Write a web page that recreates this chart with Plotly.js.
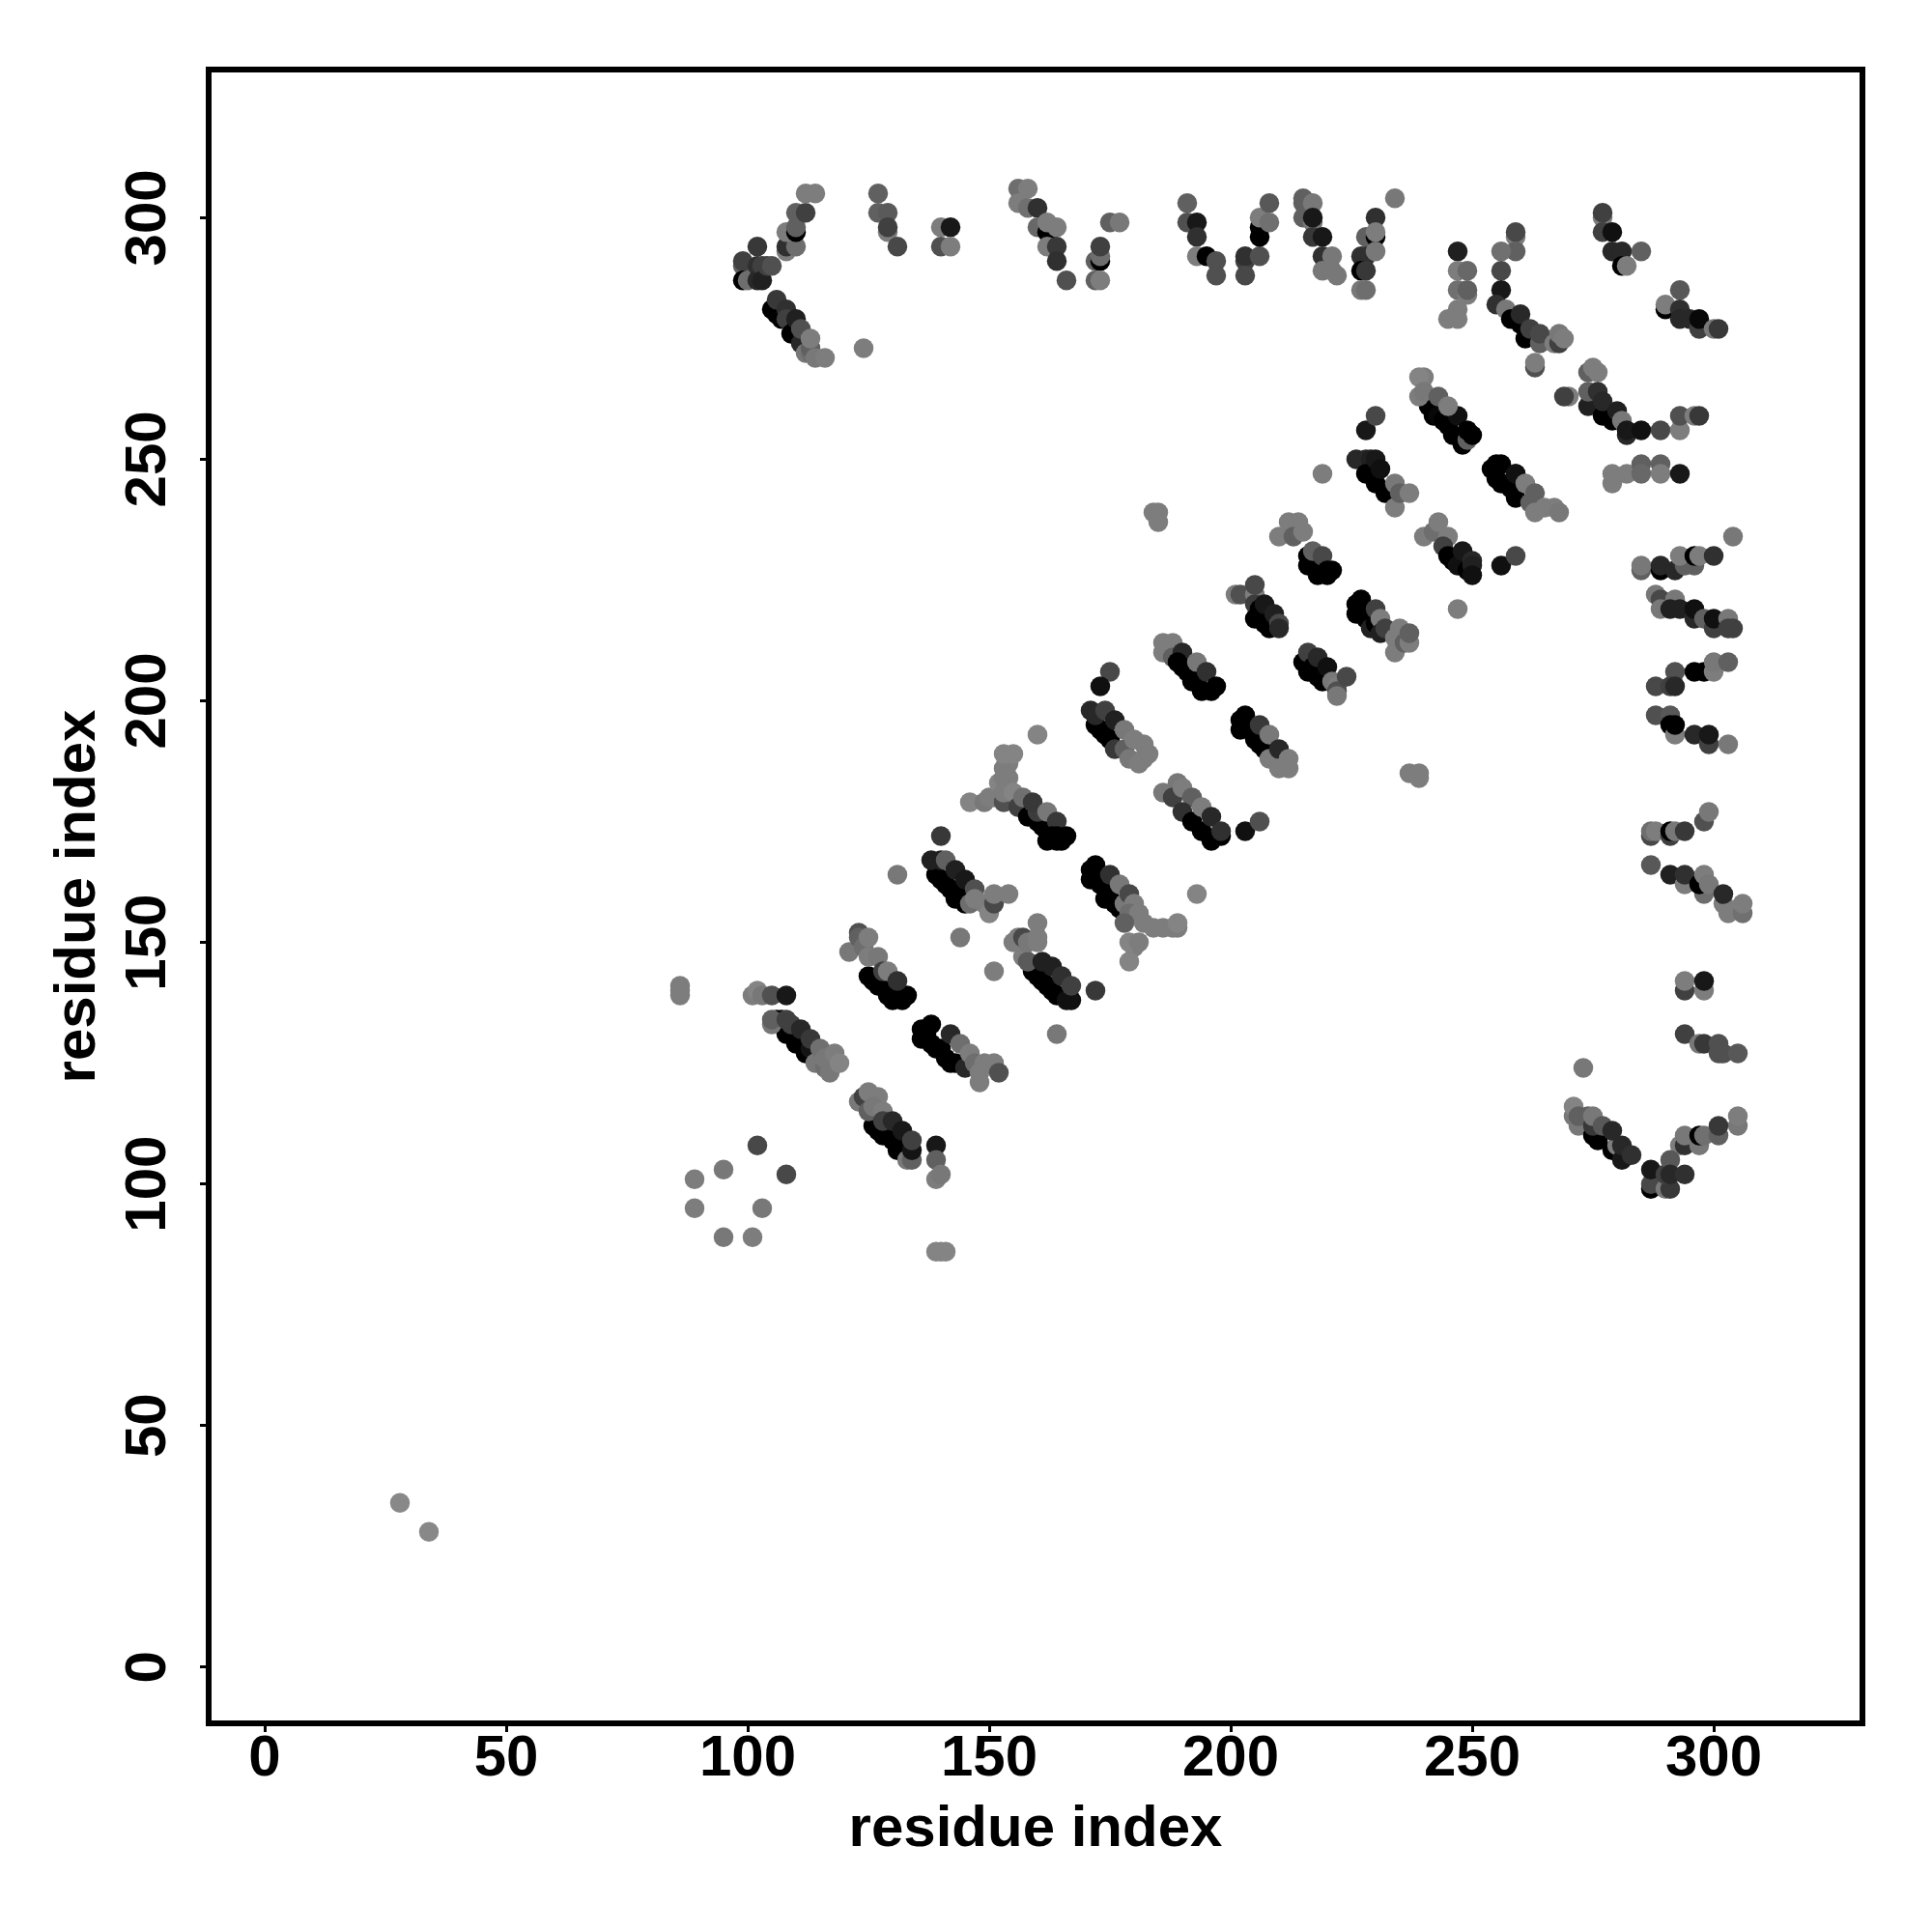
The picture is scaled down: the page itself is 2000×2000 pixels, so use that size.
<!DOCTYPE html>
<html><head><meta charset="utf-8">
<script src="https://cdn.plot.ly/plotly-3.0.1.min.js"></script>
<style>html,body{margin:0;padding:0;background:#fff}#c{width:2000px;height:2000px}</style>
</head><body><div id="c"></div>
<script>
var axisTitle = "residue index";
var tickValues = [0,50,100,150,200,250,300];
var tickLabels = ["0","50","100","150","200","250","300"];
// Contacts as [residue i, residue j, grey level], in drawing order.
var isolated = [[28,34,136],[34,28,136],[89,101,125],[89,95,125],[95,103,120],[95,89,120],[101,89,125],[103,95,120],[102,108,72],[108,102,72],[86,141,125],[86,139,125],[86,140,125]];
var row139 = [[101,139,125],[102,140,132],[103,139,120],[105,139,80],[108,139,24]];
var strip105 = [[106,134,0],[107,134,0],[108,131,0],[109,132,0],[110,129,0],[111,130,0],[112,127,0],[113,128,20],[105,133,120],[105,134,96],[108,134,64],[109,133,64],[111,132,40],[113,130,56],[114,125,120],[115,128,112],[116,124,110],[116,126,120],[117,123,120],[118,127,125],[119,125,132]];
var strip123 = [[126,112,0],[127,111,0],[128,110,0],[129,110,0],[130,109,0],[131,107,0],[132,107,0],[133,106,0],[133,105,120],[134,105,96],[123,117,120],[124,118,64],[125,119,125],[127,118,125],[125,115,96],[126,116,120],[128,115,125],[128,113,64],[130,113,40],[132,111,24],[134,107,20],[134,109,64]];
var tail139 = [[139,108,24],[139,105,96],[139,101,125],[140,102,120],[139,86,132],[140,86,132],[141,86,132]];
var strip136 = [[136,132,0],[136,130,0],[137,131,0],[138,133,0],[138,129,0],[139,128,0],[140,128,0],[141,126,0],[142,125,0],[143,125,0],[145,124,40],[142,131,40],[144,129,110],[146,127,125],[147,125,110],[148,123,125],[148,121,125],[149,125,125],[151,125,125],[152,123,80]];
var strip121 = [[125,143,0],[126,142,0],[127,141,0],[128,141,0],[129,139,0],[130,138,0],[131,139,0],[132,138,0],[133,139,0],[121,148,120],[123,152,80],[123,151,96],[124,149,110],[125,151,125],[125,147,125],[127,147,120],[128,144,64],[129,144,125],[131,142,48]];
var strip138 = [[139,164,0],[140,163,0],[141,162,0],[142,161,0],[143,159,0],[144,160,0],[145,158,0],[146,158,110],[138,167,32],[140,167,32],[141,167,96],[143,165,32],[145,163,24],[147,161,80],[147,159,125],[149,158,125],[150,156,132],[151,158,72],[151,160,125],[154,160,125],[140,172,56],[131,164,120]];
var strip156 = [[159,144,0],[160,143,0],[161,142,0],[162,141,0],[163,140,0],[164,139,0],[166,138,16],[167,138,16],[157,147,125],[158,146,90],[161,146,32],[163,145,32],[165,143,48],[167,141,64],[172,140,56],[164,131,120],[155,150,125],[156,151,125],[157,151,72],[158,150,120],[160,150,125],[160,151,125],[160,154,125],[144,151,120],[151,144,125]];
var strip146 = [[146,179,132],[149,179,120],[150,180,125],[151,180,125],[152,183,132],[153,186,125],[153,184,125],[154,184,125],[154,187,125],[153,189,132],[155,189,132],[153,179,80],[153,181,125],[155,181,132],[156,178,64],[157,180,112],[158,176,0],[160,175,0],[161,174,0],[162,173,0],[160,177,60],[159,179,56],[162,177,120],[164,175,56],[163,172,0],[162,171,0],[164,171,0],[164,172,0],[165,171,0],[166,172,0]];
var strip171 = [[171,165,0],[171,163,0],[172,166,0],[172,164,0],[173,162,0],[174,159,0],[175,161,0],[176,158,0],[175,164,48],[177,162,120],[177,157,0],[178,158,120],[179,160,72],[180,158,125],[179,156,110],[181,156,125],[178,154,96],[182,154,125],[184,153,125],[186,153,125],[188,153,125],[189,153,125],[189,154,132],[180,149,125],[179,150,132],[181,150,125],[179,146,132],[193,160,132]];
var strip172 = [[172,195,0],[173,194,0],[174,193,0],[175,192,0],[171,198,40],[172,197,40],[174,198,64],[176,196,32],[176,190,56],[178,194,120],[178,190,96],[180,192,125],[179,188,120],[181,187,125],[182,188,125],[182,191,125],[183,189,125],[175,206,72],[173,203,16],[160,193,132]];
var strip186 = [[189,183,120],[186,181,120],[188,180,64],[190,182,125],[192,180,96],[190,177,48],[192,175,0],[194,173,0],[196,171,0],[194,178,125],[196,176,40],[198,172,0],[198,173,48],[203,173,16],[206,175,80]];
var strip202 = [[202,196,0],[202,194,0],[203,197,0],[203,195,0],[205,192,0],[206,191,0],[207,190,0],[206,195,56],[208,193,120],[208,188,125],[210,190,40],[210,186,125],[212,188,125],[212,186,125]];
var strip186b = [[186,212,125],[188,212,125],[186,210,125],[188,209,96],[190,210,40],[189,208,0],[190,207,0],[191,206,0],[192,204,0],[193,208,120],[193,204,0],[195,206,48],[194,202,0],[196,202,0],[197,203,0]];
var strip215 = [[215,208,0],[216,210,64],[216,206,0],[217,207,0],[218,205,0],[218,209,40],[219,204,0],[220,207,16],[221,204,120],[222,203,125],[222,202,80],[222,201,120],[224,205,72]];
var strip201 = [[201,222,125],[202,222,80],[205,222,125],[205,224,72],[205,220,60],[205,217,0],[206,219,0],[207,216,0],[208,215,0],[207,220,24],[209,218,32],[210,216,72],[210,215,40]];
var outlierA = [[184,239,125],[185,239,125],[185,237,125],[237,185,125],[239,185,125],[239,184,125]];
var strip212 = [[210,234,125],[212,237,125],[214,237,125],[213,234,96],[215,235,125],[216,230,0],[216,228,0],[217,229,0],[217,231,96],[218,227,0],[219,230,72],[218,226,0],[220,226,0],[220,227,0],[221,227,0]];
var strip226 = [[226,220,0],[226,218,0],[227,221,0],[227,219,0],[228,217,0],[229,215,32],[230,216,0],[230,219,64],[231,217,125],[231,214,32],[232,215,64],[234,213,125],[234,210,125],[235,215,125],[236,212,96],[237,212,125],[237,214,96]];
var strip240 = [[241,261,0],[242,259,0],[243,259,8],[244,258,0],[245,257,0],[246,255,0],[247,259,16],[248,253,0],[249,254,96],[249,256,0],[250,255,0],[240,267,125],[239,267,132],[239,263,125],[240,264,120],[243,263,96],[245,261,125]];
var strip226b = [[226,250,40],[228,250,40],[229,250,32],[228,247,0],[230,250,24],[230,245,0],[231,248,16],[232,243,0],[234,245,120],[234,240,125],[235,243,96],[237,243,125],[259,247,16],[228,256,24],[230,259,72],[219,247,125]];
var strip254 = [[254,248,0],[255,249,0],[256,249,0],[255,246,0],[256,245,0],[258,244,0],[259,247,16],[259,242,0],[261,245,125],[263,243,96],[262,241,96],[263,239,125],[265,240,125],[267,240,125],[268,239,120]];
var strip240b = [[240,234,125],[242,235,110],[243,237,125],[245,234,125],[244,232,64],[245,230,0],[246,229,0],[247,228,16],[248,231,24],[249,227,0],[250,229,40],[250,228,32],[250,226,16],[256,228,16],[259,230,72],[247,219,125]];
var row247 = [[279,247,125],[279,245,125],[282,247,125],[285,249,96],[285,247,104],[289,249,96],[289,247,125],[293,247,24]];
var strip269 = [[270,263,125],[269,263,64],[274,268,96],[275,269,125],[276,268,125],[274,261,32],[274,264,96],[276,264,48],[277,259,0],[277,262,40],[279,258,0],[280,260,32],[281,258,120],[282,255,40],[282,256,24],[285,256,16],[289,256,72],[293,256,125],[293,259,80],[296,259,125],[297,259,56]];
var row228 = [[304,234,120],[285,227,96],[285,228,120],[289,227,0],[289,228,40],[292,227,40],[294,228,96],[296,228,96],[293,230,125],[296,230,0],[297,230,125],[300,230,48]];
var row219 = [[288,222,120],[289,221,72],[289,219,120],[292,221,120],[291,219,32],[293,219,32],[296,217,40],[296,219,16],[298,217,96],[300,215,64],[300,217,16],[303,217,120],[303,215,64],[304,215,64]];
var row206 = [[298,206,0],[296,206,0],[292,206,80],[288,203,72],[291,203,64],[292,203,40],[300,206,125],[300,208,120],[303,208,96]];
var row195 = [[288,197,80],[291,197,88],[291,195,0],[292,193,125],[292,195,0],[296,193,40],[299,191,64],[299,193,24],[303,191,120]];
var row173 = [[287,172,72],[287,173,110],[288,173,125],[291,172,64],[291,173,0],[292,173,120],[294,173,56],[298,175,80],[299,177,120]];
var row162 = [[287,166,88],[291,164,32],[294,162,125],[294,164,48],[298,160,110],[297,162,0],[298,164,125],[299,162,120],[303,156,125],[302,158,125],[302,160,40],[306,156,112],[306,158,125]];
var row131 = [[294,140,64],[294,142,125],[298,140,125],[298,142,24],[294,131,64],[297,129,120],[298,129,56],[301,129,80],[301,127,80],[302,127,80],[305,127,88],[273,124,120]];
var row110 = [[305,112,120],[305,114,125],[293,108,125],[294,108,48],[294,110,120],[297,108,120],[297,110,0],[298,110,112],[301,110,96],[301,112,56]];
var row100 = [[287,99,0],[287,100,72],[287,103,24],[290,99,120],[291,99,56],[290,102,64],[291,105,88],[291,102,40],[294,102,48]];
var strip271 = [[271,114,120],[271,116,132],[272,112,120],[272,114,96],[274,114,96],[275,110,0],[276,109,0],[275,112,56],[275,114,120],[277,112,88],[279,107,0],[280,108,125],[281,105,24],[279,111,40],[281,108,40],[283,106,48]];
var capTop = [[99,290,96],[99,291,64],[99,287,0],[100,287,110],[102,294,56],[102,290,48],[102,287,40],[103,290,64],[103,287,32],[104,290,64],[105,290,80]];
var helixA = [[108,293,125],[108,294,48],[110,294,110],[108,297,125],[110,297,0],[110,298,96],[110,301,96],[112,301,64],[112,305,125],[114,305,125]];
var stripTop105 = [[105,281,0],[106,280,0],[107,279,0],[106,283,56],[108,281,48],[108,279,64],[109,276,0],[110,277,0],[110,279,32],[111,274,40],[111,277,80],[112,272,120],[113,272,110],[113,273,96],[113,275,125],[114,271,120],[116,271,125],[124,273,125]];
var topA = [[129,297,125],[127,305,96],[127,301,96],[129,301,90],[129,298,64],[131,294,72],[140,298,125],[142,298,24],[140,294,80],[142,294,125]];
var topB = [[156,306,110],[158,306,125],[156,303,125],[158,302,112],[160,302,48],[160,298,104],[162,297,0],[162,299,125],[164,298,125],[162,294,125],[164,294,56],[164,291,48],[166,287,80]];
var topC = [[172,291,96],[173,291,0],[173,292,110],[173,294,64],[172,287,96],[173,287,125],[175,299,96],[177,299,120]];
var topD = [[191,303,96],[191,299,80],[193,299,24],[193,296,48],[193,292,125],[195,292,0],[197,291,80],[197,288,80],[203,291,64],[203,292,48],[203,288,72],[206,292,80],[206,298,0],[206,296,0],[206,300,125],[208,303,88],[208,299,112]];
var topE = [[215,304,96],[215,303,96],[215,300,96],[217,299,120],[217,303,120],[217,300,24],[217,296,56],[219,296,24],[219,292,48],[219,289,120],[221,292,120],[221,289,120],[222,288,120]];
var topF = [[230,300,48],[228,296,96],[230,296,0],[230,297,125],[227,292,48],[228,292,48],[230,293,120],[227,289,0],[228,289,56],[227,285,120],[228,285,110],[234,304,120]];
var topG = [[247,293,32],[247,289,125],[249,289,104],[247,285,112],[249,284,125],[249,285,96],[247,281,125],[245,279,125],[247,279,125]];
var topH = [[259,296,125],[259,297,72],[259,293,96],[256,293,112],[256,289,72],[256,285,24],[255,282,48],[257,281,120],[258,279,0],[260,278,0],[260,280,40],[261,275,0],[262,277,64],[264,274,96],[264,276,72],[267,274,125],[268,274,64],[268,276,120],[269,275,125],[263,269,80],[263,270,125]];
var topI = [[277,300,125],[277,301,64],[277,297,64],[279,297,16],[279,293,40],[281,293,40],[285,293,96],[281,290,0],[282,290,125]];
var topJ = [[293,285,88],[290,281,0],[290,282,125],[293,281,48],[293,279,40],[295,279,40],[297,277,64],[297,279,8],[300,277,120],[301,277,56]];

var clusters = [isolated,row139,strip105,strip123,tail139,strip136,strip121,strip138,strip156,strip146,strip171,strip172,strip186,strip202,strip186b,strip215,strip201,outlierA,strip212,strip226,strip240,strip226b,strip254,strip240b,row247,strip269,row228,row219,row206,row195,row173,row162,row131,row110,row100,strip271,capTop,helixA,stripTop105,topA,topB,topC,topD,topE,topF,topG,topH,topI,topJ];
var residueI=[], residueJ=[], greys=[];
clusters.forEach(function(c){c.forEach(function(p){residueI.push(p[0]);residueJ.push(p[1]);greys.push('rgb('+p[2]+','+p[2]+','+p[2]+')');});});

var fontFam = '"Liberation Sans",Arial,sans-serif';
var axisCommon = {
  showgrid:false, zeroline:false, showline:true, mirror:true, linecolor:'#000', linewidth:5.7,
  ticks:'outside', ticklen:6, tickwidth:3, tickcolor:'#000',
  tickmode:'array', tickvals:tickValues, ticktext:tickLabels,
  tickfont:{family:fontFam,size:60,color:'#000',weight:700},
  automargin:false
};
var xaxis = Object.assign({}, axisCommon, {range:[-11,330.2], ticklabelstandoff:-27,
  title:{text:'<b>'+axisTitle+'</b>',standoff:21,font:{family:fontFam,size:60,color:'#000'}}});
var yaxis = Object.assign({}, axisCommon, {range:[-11.04,330.06], tickangle:-90, ticklabelstandoff:12, ticklabelshift:9,
  title:{text:'<b>'+axisTitle+'</b>',standoff:1,font:{family:fontFam,size:60,color:'#000'}}});
Plotly.newPlot('c',[{
  type:'scatter',mode:'markers',x:residueI,y:residueJ,
  marker:{size:20.5,color:greys,line:{width:0}},hoverinfo:'skip'
}],{
  width:2000,height:2000,showlegend:false,
  paper_bgcolor:'#fff',plot_bgcolor:'#fff',
  margin:{l:219,r:75,t:75.2,b:219.3,pad:0},
  xaxis:xaxis,yaxis:yaxis
},{displayModeBar:false,staticPlot:true});
</script></body></html>
